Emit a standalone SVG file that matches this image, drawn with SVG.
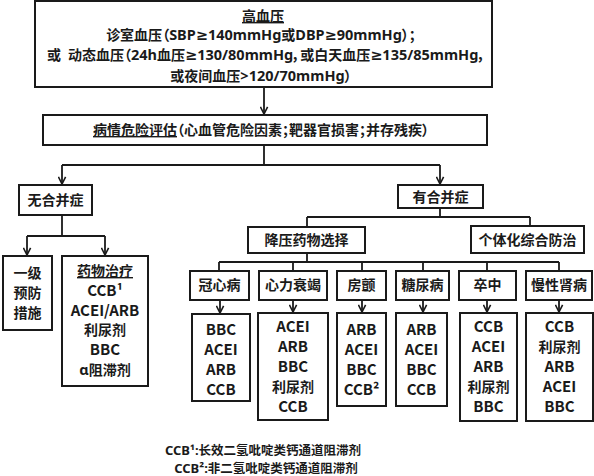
<svg xmlns="http://www.w3.org/2000/svg" width="594" height="476" viewBox="0 0 594 476">
<style>
text{font-family:"Noto Sans CJK SC","Noto Sans",sans-serif;fill:#1a1a1a;text-anchor:middle;font-feature-settings:"palt"}
.t{font-size:14px;font-weight:600}
.l{font-size:15px;font-weight:700}
.c{font-size:14px;font-weight:600}
.f{font-size:12.5px;font-weight:600}
.e{font-family:"Noto Sans","DejaVu Sans",sans-serif;font-weight:700;font-size:14.5px}
.fe{font-family:"Noto Sans","DejaVu Sans",sans-serif;font-weight:700;font-size:13px}
.u{text-decoration:underline}
.box{fill:#fff;stroke:#1a1a1a;stroke-width:2}
.ln{fill:none;stroke:#1a1a1a;stroke-width:1.8}
.ar{fill:none;stroke:#1a1a1a;stroke-width:1.8;marker-end:url(#a)}
</style>
<defs>
<marker id="a" viewBox="0 0 10 10" refX="9" refY="5" markerWidth="9" markerHeight="9" markerUnits="userSpaceOnUse" orient="auto">
<path d="M1,1 L9,5 L1,9" fill="none" stroke="#1a1a1a" stroke-width="1.8"/>
</marker>
</defs>
<rect width="594" height="476" fill="#fff"/>
<g id="connectors">
<path class="ar" d="M264,87 V114"/>
<path class="ln" d="M264,145 V165 M62,165 H440"/>
<path class="ar" d="M62,165 V184"/>
<path class="ar" d="M440,165 V184"/>
<path class="ln" d="M62,215 V236 M27,236 H105"/>
<path class="ar" d="M27,236 V255"/>
<path class="ar" d="M105,236 V255"/>
<path class="ln" d="M440,208 V217 M307,217 H530 M307,217 V227 M530,217 V226"/>
<path class="ln" d="M307,253 V262 M219,262 H559 M219,262 V271 M293,262 V271 M362,262 V271 M423,262 V271 M487,262 V271 M559,262 V271"/>
<path class="ar" d="M220,300 V313"/>
<path class="ar" d="M293,300 V312"/>
<path class="ar" d="M362,300 V312"/>
<path class="ar" d="M423,300 V312"/>
<path class="ar" d="M487,300 V312"/>
<path class="ar" d="M559,300 V312"/>
</g>
<g id="n-hypertension">
<rect class="box" x="35" y="1" width="457" height="86"/>
<text class="t" x="263" y="21"><tspan class="u">高血压</tspan></text>
<text class="t" x="261" y="40">诊室血压（<tspan class="e">SBP≥140mmHg</tspan>或<tspan class="e">DBP≥90mmHg</tspan>）；</text>
<text class="t" x="47" y="60" style="text-anchor:start">或</text>
<text class="t" x="68" y="60" style="text-anchor:start">动态血压（<tspan class="e">24h</tspan>血压<tspan class="e">≥130/80mmHg</tspan>，或白天血压<tspan class="e">≥135/85mmHg</tspan>，</text>
<text class="t" x="261" y="81">或夜间血压<tspan class="e">&gt;120/70mmHg</tspan>）</text>
</g>
<g id="n-risk">
<rect class="box" x="43" y="115" width="444" height="30"/>
<text class="t" x="261" y="135"><tspan class="u">病情危险评估</tspan>（心血管危险因素；靶器官损害；并存残疾）</text>
</g>
<g id="n-nocomp">
<rect class="box" x="19" y="185" width="73" height="30"/>
<text class="c" x="55.5" y="205">无合并症</text>
</g>
<g id="n-comp">
<rect class="box" x="398" y="185" width="85" height="23"/>
<text class="c" x="440.5" y="202">有合并症</text>
</g>
<g id="n-primary">
<rect class="box" x="3" y="256" width="49" height="74"/>
<text class="c" x="27.5" y="278">一级</text>
<text class="c" x="27.5" y="298">预防</text>
<text class="c" x="27.5" y="318">措施</text>
</g>
<g id="n-drug">
<rect class="box" x="62" y="256" width="86" height="130"/>
<text class="c" x="105" y="276"><tspan class="u">药物治疗</tspan></text>
<text class="l" x="105" y="296">CCB¹</text>
<text class="l" x="105" y="316">ACEI/ARB</text>
<text class="c" x="105" y="335">利尿剂</text>
<text class="l" x="105" y="355">BBC</text>
<text class="c" x="105" y="375"><tspan class="e">α</tspan>阻滞剂</text>
</g>
<g id="n-choice">
<rect class="box" x="248" y="227" width="117" height="26"/>
<text class="c" x="306.5" y="245">降压药物选择</text>
</g>
<g id="n-indiv">
<rect class="box" x="471" y="226" width="113" height="27"/>
<text class="c" x="527.5" y="245">个体化综合防治</text>
</g>
<g id="n-chd">
<rect class="box" x="190" y="271" width="59" height="29"/>
<text class="c" x="219.5" y="290">冠心病</text>
<rect class="box" x="192" y="314" width="58" height="87"/>
<text class="l" x="221" y="335">BBC</text>
<text class="l" x="221" y="355">ACEI</text>
<text class="l" x="221" y="375">ARB</text>
<text class="l" x="221" y="395">CCB</text>
</g>
<g id="n-hf">
<rect class="box" x="259" y="271" width="68" height="29"/>
<text class="c" x="293" y="290">心力衰竭</text>
<rect class="box" x="258" y="313" width="70" height="107"/>
<text class="l" x="293" y="332">ACEI</text>
<text class="l" x="293" y="352">ARB</text>
<text class="l" x="293" y="372">BBC</text>
<text class="c" x="293" y="392">利尿剂</text>
<text class="l" x="293" y="412">CCB</text>
</g>
<g id="n-af">
<rect class="box" x="337" y="271" width="49" height="29"/>
<text class="c" x="361.5" y="290">房颤</text>
<rect class="box" x="337" y="313" width="49" height="93"/>
<text class="l" x="361.5" y="335">ARB</text>
<text class="l" x="361.5" y="355">ACEI</text>
<text class="l" x="361.5" y="375">BBC</text>
<text class="l" x="361.5" y="395">CCB²</text>
</g>
<g id="n-dm">
<rect class="box" x="396" y="271" width="53" height="29"/>
<text class="c" x="422.5" y="290">糖尿病</text>
<rect class="box" x="396" y="313" width="51" height="93"/>
<text class="l" x="421.5" y="335">ARB</text>
<text class="l" x="421.5" y="355">ACEI</text>
<text class="l" x="421.5" y="375">BBC</text>
<text class="l" x="421.5" y="395">CCB</text>
</g>
<g id="n-stroke">
<rect class="box" x="459" y="271" width="57" height="29"/>
<text class="c" x="487.5" y="290">卒中</text>
<rect class="box" x="460" y="313" width="57" height="108"/>
<text class="l" x="488.5" y="332">CCB</text>
<text class="l" x="488.5" y="352">ACEI</text>
<text class="l" x="488.5" y="372">ARB</text>
<text class="c" x="488.5" y="392">利尿剂</text>
<text class="l" x="488.5" y="412">BBC</text>
</g>
<g id="n-ckd">
<rect class="box" x="526" y="271" width="66" height="29"/>
<text class="c" x="559" y="290">慢性肾病</text>
<rect class="box" x="526" y="313" width="67" height="108"/>
<text class="l" x="559.5" y="332">CCB</text>
<text class="c" x="559.5" y="352">利尿剂</text>
<text class="l" x="559.5" y="372">ARB</text>
<text class="l" x="559.5" y="392">ACEI</text>
<text class="l" x="559.5" y="412">BBC</text>
</g>
<g id="notes">
<text class="f" x="263" y="455"><tspan class="fe">CCB¹:</tspan>长效二氢吡啶类钙通道阻滞剂</text>
<text class="f" x="266" y="473"><tspan class="fe">CCB²:</tspan>非二氢吡啶类钙通道阻滞剂</text>
</g>
</svg>
